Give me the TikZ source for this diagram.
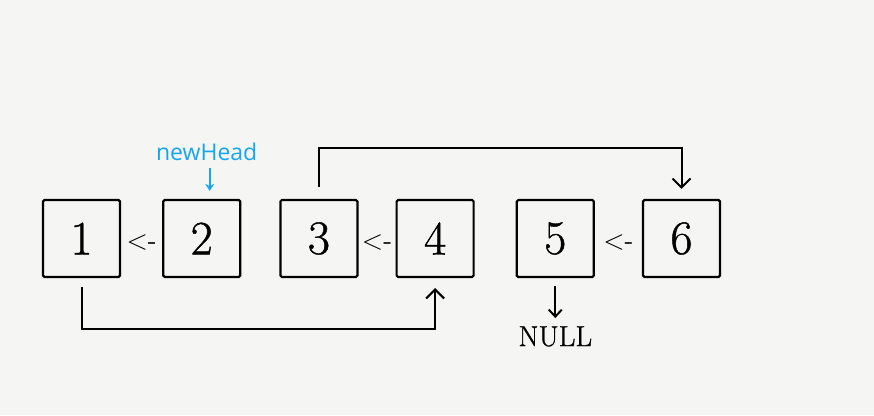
\documentclass[tikz,border=0pt]{standalone}
\usepackage{fontspec}
\newfontfamily\headfont{Open Sans}
\newfontfamily\numfont{Latin Modern Roman}[FakeBold=0.9]
\usetikzlibrary{positioning,arrows.meta}
\definecolor{paper}{RGB}{245,245,243}
\definecolor{headblue}{RGB}{22,166,236}
\tikzstyle{link} = [line width=2pt, -{Straight Barb[length=9pt,width=18pt]}]
\tikzstyle{nullarrow} = [line width=2pt, -{Straight Barb[length=7pt,width=13pt]}]

\begin{document}
\begin{tikzpicture}[x=1pt,y=1pt,
    box/.style={
        rectangle,
        draw=black,
        line width=2.2pt,
        rounded corners=1.5pt,
        minimum size=77pt,
        inner sep=0pt,
        font=\numfont\fontsize{48}{52}\selectfont
    },
    back/.style={
        font=\sffamily\fontsize{28}{30}\selectfont,
        inner sep=0pt
    },
    headlabel/.style={
        font=\headfont\fontsize{23}{26}\selectfont,
        text=headblue,
        inner sep=0pt
    }
    ]

    % paper
    \fill[paper] (0,0) rectangle (874,-415);

    % list nodes
    \node[box] (one) at (81.5,-238.5) {1};
    \node[box, right=41pt of one] (two) {2};
    \node[box, right=38pt of two] (three) {3};
    \node[box, right=37pt of three] (four) {4};
    \node[box, right=41pt of four] (five) {5};
    \node[box, right=47pt of five] (six) {6};

    % reversed links
    \path (one.east) -- node[back, yshift=-4pt]{<-} (two.west);
    \path (three.east) -- node[back, yshift=-4pt]{<-} (four.west);
    \path (five.east) -- node[back, yshift=-4pt]{<-} (six.west);

    % newHead
    \coordinate (headtip) at ([xshift=8pt,yshift=8pt]two.north);
    \node[headlabel, anchor=base] (newhead) at ([xshift=-3pt,yshift=30pt]headtip) {newHead};
    \draw[headblue, line width=2pt, -{Stealth[length=7pt,width=9pt]}] ([yshift=-7pt]newhead.base -| headtip) -- (headtip);

    % connections
    \draw[link] ([yshift=12pt]three.north) -- ++(0,39pt) -| ([yshift=10pt]six.north);
    \draw[link] ([yshift=-9pt]one.south) -- ++(0,-42pt) -| ([yshift=-10pt]four.south);

    % tail
    \node[font=\numfont\fontsize{29}{32}\selectfont, inner sep=0pt, anchor=base] (null) at ([yshift=-68pt]five.south) {NULL};
    \draw[nullarrow] ([yshift=-8pt]five.south) -- ([yshift=8pt]null.north);
\end{tikzpicture}
\end{document}
